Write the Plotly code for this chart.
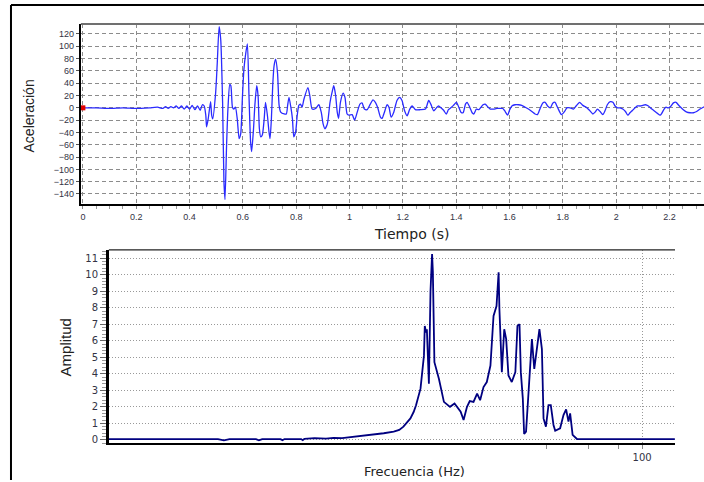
import plotly.graph_objects as go

W, H = 704, 482

# ---------------- data ----------------
time_s = [0.000, 0.050, 0.100, 0.150, 0.200, 0.250, 0.280, 0.300, 0.310, 0.320, 0.330, 0.340,
          0.350, 0.360, 0.370, 0.380, 0.390, 0.400, 0.410, 0.420, 0.430, 0.440, 0.448, 0.455,
          0.461, 0.464, 0.470, 0.479, 0.483, 0.487, 0.498, 0.504, 0.511, 0.517, 0.524, 0.529,
          0.533, 0.539, 0.544, 0.551, 0.555, 0.561, 0.566, 0.572, 0.579, 0.586, 0.592, 0.598,
          0.604, 0.611, 0.617, 0.623, 0.629, 0.633, 0.640, 0.645, 0.652, 0.657, 0.662, 0.667,
          0.673, 0.680, 0.685, 0.692, 0.698, 0.702, 0.707, 0.712, 0.717, 0.723, 0.730, 0.736,
          0.742, 0.755, 0.763, 0.768, 0.773, 0.780, 0.786, 0.791, 0.798, 0.804, 0.810, 0.816,
          0.822, 0.829, 0.844, 0.851, 0.860, 0.873, 0.885, 0.894, 0.901, 0.908, 0.917, 0.927,
          0.936, 0.941, 0.948, 0.954, 0.959, 0.966, 0.976, 0.983, 0.991, 0.998, 1.010, 1.019,
          1.029, 1.039, 1.047, 1.056, 1.066, 1.078, 1.088, 1.097, 1.106, 1.116, 1.122, 1.131,
          1.141, 1.148, 1.156, 1.166, 1.178, 1.188, 1.197, 1.206, 1.216, 1.226, 1.235, 1.247,
          1.266, 1.285, 1.297, 1.305, 1.316, 1.326, 1.334, 1.343, 1.353, 1.363, 1.371, 1.380,
          1.390, 1.401, 1.410, 1.418, 1.426, 1.435, 1.441, 1.451, 1.460, 1.466, 1.476, 1.485,
          1.493, 1.501, 1.509, 1.518, 1.528, 1.540, 1.553, 1.565, 1.575, 1.584, 1.593, 1.600,
          1.609, 1.621, 1.634, 1.646, 1.659, 1.671, 1.684, 1.696, 1.705, 1.715, 1.725, 1.734,
          1.743, 1.753, 1.763, 1.771, 1.780, 1.795, 1.808, 1.815, 1.828, 1.840, 1.850, 1.863,
          1.875, 1.888, 1.900, 1.913, 1.921, 1.930, 1.940, 1.950, 1.959, 1.967, 1.978, 1.988,
          1.996, 2.005, 2.015, 2.025, 2.035, 2.044, 2.052, 2.062, 2.071, 2.080, 2.090, 2.100,
          2.110, 2.121, 2.134, 2.146, 2.155, 2.165, 2.171, 2.180, 2.187, 2.196, 2.206, 2.215,
          2.225, 2.233, 2.242, 2.252, 2.265, 2.277, 2.290, 2.302, 2.315, 2.327, 2.340]

accel = [0, 0, -1, 0, -1, 0, 1, -1, 2, -1, 2, 0,
         3, -1, 3, -2, 3, -2, 4, -3, 3, -4, 5, 3,
         -12, -31, -18, 10, -12, -18, 25, 73, 132, 111, 9, -119,
         -149, -60, -2, 38, 36, 1, -2, 1, -18, -50, -42, 14,
         63, 89, 104, 20, -55, -71, -34, 4, 36, 20, -34, -47,
         -44, -18, 9, -12, -39, -50, -18, 36, 68, 79, 57, 4,
         -7, -10, -10, 4, 17, 1, -18, -47, -39, -12, 4, 6,
         1, 14, 33, 20, -2, -1, 5, -7, -26, -34, -26, 9,
         28, 36, 20, -7, -17, 9, 24, 17, -10, -12, -11, -20,
         -7, 6, 8, -2, -3, 6, 13, 9, 0, -15, -17, -7,
         5, 1, -15, -7, 12, 17, 12, -4, -13, -2, 3, -3,
         -3, -2, 12, 6, -5, 0, 3, 0, -4, -10, -3, 0,
         4, 9, 1, -7, -8, 6, 9, 1, -8, -10, -2, -3,
         1, 5, 6, 2, -2, -2, -1, -1, -1, -6, -12, -4,
         3, 5, 5, 4, 1, -2, -6, -10, -11, -1, 8, 9,
         3, 0, 8, 9, 1, -11, -5, 0, 0, -2, 3, 9,
         4, 1, -4, -10, -7, -2, -6, -11, -4, 5, 10, 9,
         3, 0, 0, -2, -6, -12, -8, -4, 0, 3, 3, 4,
         5, 3, -2, -6, -9, -12, -9, -2, 1, 0, 3, 8,
         9, 5, 1, -3, -7, -8, -8, -6, -2, 1, 3]

freq_hz = [0.596, 1.0, 1.70, 1.80, 1.90, 2.45, 2.52, 2.60, 3.10, 3.16, 3.22, 3.78, 3.84, 3.90,
           4.3, 4.8, 5.16, 5.6, 6.27, 6.7, 7.13, 7.6, 8.09, 8.36, 9.2, 9.7, 10.1, 10.8, 11.15,
           11.4, 11.9, 12.3, 12.4, 12.55, 12.65, 12.9, 13.1, 13.3, 13.4, 13.6, 14.2, 14.9, 15.8,
           16.5, 17.5, 18.0, 18.6, 19.1, 19.8, 20.5, 21.1, 21.8, 22.5, 23.3, 24.0, 24.7, 25.2,
           25.4, 26.0, 26.6, 27.1, 27.7, 28.6, 29.6, 30.2, 30.8, 31.2, 31.8, 32.2, 32.8, 33.6,
           34.7, 35.5, 36.4, 37.3, 38.2, 38.8, 39.7, 40.7, 41.6, 42.7, 43.4, 45.5, 47.0, 48.2,
           49.3, 50.1, 51.3, 53.5, 80.0, 137.0]

amplitude = [0.04, 0.04, 0.04, -0.03, 0.04, 0.04, -0.03, 0.04, 0.04, -0.02, 0.05, 0.05, -0.02, 0.06,
             0.1, 0.08, 0.12, 0.1, 0.18, 0.2, 0.27, 0.3, 0.34, 0.4, 0.5, 0.6, 0.8, 1.3, 1.7,
             2.1, 3.1, 5.1, 6.9, 6.5, 6.7, 3.4, 9.0, 11.26, 10.2, 4.7, 3.7, 2.3, 2.0,
             2.2, 1.7, 1.2, 2.0, 2.35, 2.3, 2.8, 2.4, 3.2, 3.5, 4.5, 7.5, 8.1, 10.15,
             7.9, 4.1, 6.7, 6.1, 3.9, 3.5, 4.1, 6.9, 7.0, 4.1, 2.5, 0.35, 0.5, 2.9,
             6.1, 4.3, 5.7, 6.7, 5.5, 1.3, 0.8, 2.1, 2.1, 0.9, 0.55, 0.7, 1.5, 1.85,
             1.1, 1.6, 0.3, 0.05, 0.05, 0.05]

time_ticks = [0, 0.2, 0.4, 0.6, 0.8, 1, 1.2, 1.4, 1.6, 1.8, 2, 2.2]
time_tick_labels = ["0", "0.2", "0.4", "0.6", "0.8", "1", "1.2", "1.4", "1.6", "1.8", "2", "2.2"]
accel_ticks = list(range(-140, 121, 20))
amp_ticks = list(range(0, 12))
freq_major = [100]
freq_minor = [40, 60, 80]


def X(px):
    return px / W


def Y(py):
    return 1 - py / H


fig = go.Figure()
fig.add_trace(go.Scatter(x=time_s, y=accel, mode="lines",
                         line=dict(color="#2a2aff", width=1.3, shape="spline", smoothing=0.6),
                         xaxis="x", yaxis="y", showlegend=False))
fig.add_trace(go.Scatter(x=[time_s[0]], y=[accel[0]], mode="markers",
                         marker=dict(color="#e00000", size=5, symbol="square"),
                         xaxis="x", yaxis="y", showlegend=False, cliponaxis=False))
fig.add_trace(go.Scatter(x=freq_hz, y=amplitude, mode="lines",
                         line=dict(color="#000080", width=1.8),
                         xaxis="x2", yaxis="y2", showlegend=False))

tickfont_small = dict(family="Liberation Sans, Arial", size=9, color="#333344")
tickfont_big = dict(family="DejaVu Sans, Verdana", size=10, color="#333344")

fig.update_layout(
    width=W, height=H,
    margin=dict(l=0, r=0, t=0, b=0),
    paper_bgcolor="white", plot_bgcolor="white",
    xaxis=dict(domain=[X(80), 1.0], range=[-0.0075, 2.3296],
               tickvals=time_ticks, ticktext=time_tick_labels,
               showgrid=True, gridcolor="#8c8c8c", griddash="4px,3px", gridwidth=1,
               zeroline=False, showline=True, linecolor="black", linewidth=2,
               ticks="outside", ticklen=3, tickcolor="#888",
               minor=dict(dtick=0.05, tick0=0, ticks="outside", ticklen=3, tickcolor="#999", showgrid=False),
               tickfont=tickfont_small, anchor="y"),
    yaxis=dict(domain=[Y(205), Y(24)], range=[-156.5, 136.4],
               tickvals=accel_ticks,
               showgrid=True, gridcolor="#8c8c8c", griddash="4px,3px", gridwidth=1,
               zeroline=False, showline=True, linecolor="black", linewidth=2,
               ticks="outside", ticklen=3, tickcolor="#555",
               tickfont=tickfont_small, anchor="x"),
    xaxis2=dict(domain=[X(108), X(675)], type="log", range=[-0.2247, 2.1375],
                tickvals=freq_major, ticktext=["100"],
                showgrid=True, gridcolor="#999", griddash="1px,2px", gridwidth=1,
                zeroline=False, showline=True, linecolor="black", linewidth=2,
                ticks="outside", ticklen=4, tickcolor="#888",
                minor=dict(tickvals=freq_minor, ticks="outside", ticklen=4, tickcolor="#888", showgrid=False),
                tickfont=tickfont_big, anchor="y2"),
    yaxis2=dict(domain=[Y(445), Y(251)], range=[-0.2, 11.5],
                tickvals=amp_ticks,
                showgrid=True, gridcolor="#999", griddash="1px,2px", gridwidth=1,
                zeroline=False, showline=True, linecolor="black", linewidth=2.5,
                ticks="outside", ticklen=6, tickcolor="#666",
                minor=dict(dtick=0.2, tick0=0, ticks="outside", ticklen=4, tickcolor="#999", showgrid=False),
                tickfont=tickfont_big, anchor="x2"),
)

shapes = [
    # outer frame
    dict(type="line", xref="paper", yref="paper", x0=X(10), x1=1.0, y0=Y(5), y1=Y(5),
         line=dict(color="black", width=2)),
    dict(type="line", xref="paper", yref="paper", x0=X(10), x1=X(10), y0=Y(5), y1=0,
         line=dict(color="black", width=2)),
    # top borders of plot areas
    dict(type="line", xref="x domain", yref="y domain", x0=0, x1=1, y0=1, y1=1,
         line=dict(color="#707070", width=2)),
    dict(type="line", xref="x2 domain", yref="y2 domain", x0=0, x1=1, y0=1, y1=1,
         line=dict(color="#222", width=1.2)),
]
fig.update_layout(shapes=shapes)

title_col = "#222222"
annotations = [
    dict(text="Aceleración", x=X(28), y=Y(116), xref="paper", yref="paper", textangle=-90,
         showarrow=False, font=dict(family="Liberation Sans, Arial", size=14, color=title_col),
         xanchor="center", yanchor="middle"),
    dict(text="Tiempo (s)", x=X(411.5), y=Y(235), xref="paper", yref="paper",
         showarrow=False, font=dict(family="DejaVu Sans, Verdana", size=14, color=title_col),
         xanchor="center", yanchor="middle"),
    dict(text="Amplitud", x=X(65), y=Y(349), xref="paper", yref="paper", textangle=-90,
         showarrow=False, font=dict(family="Liberation Sans, Arial", size=15, color=title_col),
         xanchor="center", yanchor="middle"),
    dict(text="Frecuencia (Hz)", x=X(414), y=Y(473), xref="paper", yref="paper",
         showarrow=False, font=dict(family="DejaVu Sans, Verdana", size=13, color=title_col),
         xanchor="center", yanchor="middle"),
]
fig.update_layout(annotations=annotations)

fig.write_html("out.html")
